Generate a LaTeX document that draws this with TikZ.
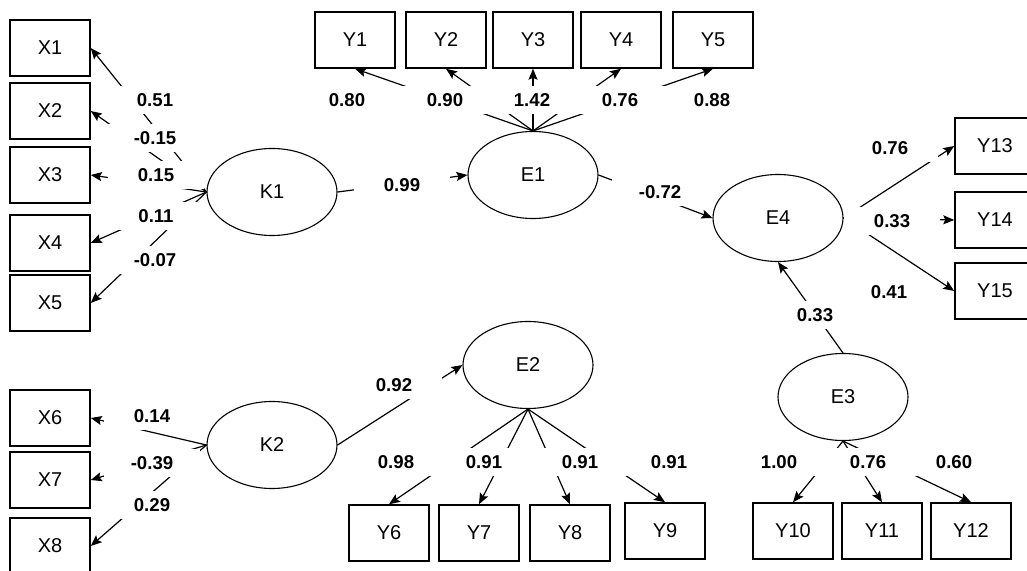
\documentclass[tikz,border=0pt]{standalone}
\usepackage{fontspec}
\setmainfont{Liberation Sans}
\usetikzlibrary{arrows.meta,shapes.geometric}

\begin{document}
\begin{tikzpicture}[x=0.5pt,y=-0.5pt,
  obs/.style={draw,line width=0.75pt,minimum width=40pt,minimum height=28pt,inner sep=0pt,font=\fontsize{10}{12}\selectfont},
  lat/.style={draw,ellipse,line width=0.55pt,minimum width=65pt,minimum height=43.5pt,inner sep=0pt,font=\fontsize{10}{12}\selectfont},
  link/.style={line width=0.6pt,-{Stealth[length=5.5pt,width=4.5pt,inset=1pt]}},
  coef/.style={fill=white,minimum width=48pt,minimum height=14pt,inner sep=0pt,font=\bfseries\fontsize{9.3}{11}\selectfont}]
\useasboundingbox (0,0) rectangle (1027,571);

\node[lat] (K1) at (272,192) {K1};
\node[lat] (K2) at (272,445) {K2};
\node[lat] (E1) at (533,175) {E1};
\node[lat] (E2) at (528,365) {E2};
\node[lat] (E3) at (843,397) {E3};
\node[lat] (E4) at (778,218) {E4};

\node[obs] (X1) at (50,48) {X1};
\node[obs] (X2) at (50,111) {X2};
\node[obs] (X3) at (50,175) {X3};
\node[obs] (X4) at (50,243) {X4};
\node[obs] (X5) at (50,303) {X5};
\node[obs] (X6) at (50,418) {X6};
\node[obs] (X7) at (50,480) {X7};
\node[obs] (X8) at (50,546) {X8};
\node[obs] (Y1) at (355,40) {Y1};
\node[obs] (Y2) at (446,40) {Y2};
\node[obs] (Y3) at (533,40) {Y3};
\node[obs] (Y4) at (621,40) {Y4};
\node[obs] (Y5) at (713,40) {Y5};
\node[obs] (Y6) at (389,533) {Y6};
\node[obs] (Y7) at (479,533) {Y7};
\node[obs] (Y8) at (570,533) {Y8};
\node[obs] (Y9) at (665,531) {Y9};
\node[obs] (Y10) at (793,531) {Y10};
\node[obs] (Y11) at (882,531) {Y11};
\node[obs] (Y12) at (971,531) {Y12};
\node[obs] (Y13) at (995,146) {Y13};
\node[obs] (Y14) at (995,220) {Y14};
\node[obs] (Y15) at (995,291) {Y15};

\draw[link] (K1.west) -- (X1.east);
\draw[link] (K1.west) -- (X2.east);
\draw[link] (K1.west) -- (X3.east);
\draw[link] (K1.west) -- (X4.east);
\draw[link] (K1.west) -- (X5.east);
\draw[link] (K2.west) -- (X6.east);
\draw[link] (K2.west) -- (X7.east);
\draw[link] (K2.west) -- (X8.east);
\draw[link] (E1.north) -- (Y1.south);
\draw[link] (E1.north) -- (Y2.south);
\draw[link] (E1.north) -- (Y3.south);
\draw[link] (E1.north) -- (Y4.south);
\draw[link] (E1.north) -- (Y5.south);
\draw[link] (E2.south) -- (Y6.north);
\draw[link] (E2.south) -- (Y7.north);
\draw[link] (E2.south) -- (Y8.north);
\draw[link] (E2.south) -- (Y9.north);
\draw[link] (E3.south) -- (Y10.north);
\draw[link] (E3.south) -- (Y11.north);
\draw[link] (E3.south) -- (Y12.north);
\draw[link] (E4.east) -- (Y13.west);
\draw[link] (E4.east) -- (Y14.west);
\draw[link] (E4.east) -- (Y15.west);
\draw[link] (K1.east) -- (E1.west);
\draw[link] (K2.east) -- (E2.west);
\draw[link] (E1.east) -- (E4.west);
\draw[link] (E3.north) -- (E4.south);

\node[coef] (cX1) at (155,100) {0.51};
\node[coef] (cX2) at (155,138) {-0.15};
\node[coef] (cX3) at (156,175) {0.15};
\node[coef] (cX4) at (156,216) {0.11};
\node[coef] (cX5) at (155,260) {-0.07};
\node[coef] (cX6) at (152,416) {0.14};
\node[coef] (cX7) at (152,463) {-0.39};
\node[coef] (cX8) at (152,505) {0.29};
\node[coef] (cY1) at (347,100) {0.80};
\node[coef] (cY2) at (445,100) {0.90};
\node[coef] (cY3) at (532,100) {1.42};
\node[coef] (cY4) at (620,100) {0.76};
\node[coef] (cY5) at (712,100) {0.88};
\node[coef] (cY6) at (396,462) {0.98};
\node[coef] (cY7) at (484,462) {0.91};
\node[coef] (cY8) at (580,462) {0.91};
\node[coef] (cY9) at (669,462) {0.91};
\node[coef] (cY10) at (779,462) {1.00};
\node[coef] (cY11) at (868,462) {0.76};
\node[coef] (cY12) at (954,462) {0.60};
\node[coef] (cY13) at (890,148) {0.76};
\node[coef] (cY14) at (892,221) {0.33};
\node[coef,minimum width=42pt] (cY15) at (889,292) {0.41};
\node[coef] (cE1) at (402,185) {0.99};
\node[coef] (cE2) at (394,385) {0.92};
\node[coef] (cE4a) at (660,192) {-0.72};
\node[coef] (cE4b) at (815,315) {0.33};
\end{tikzpicture}
\end{document}
